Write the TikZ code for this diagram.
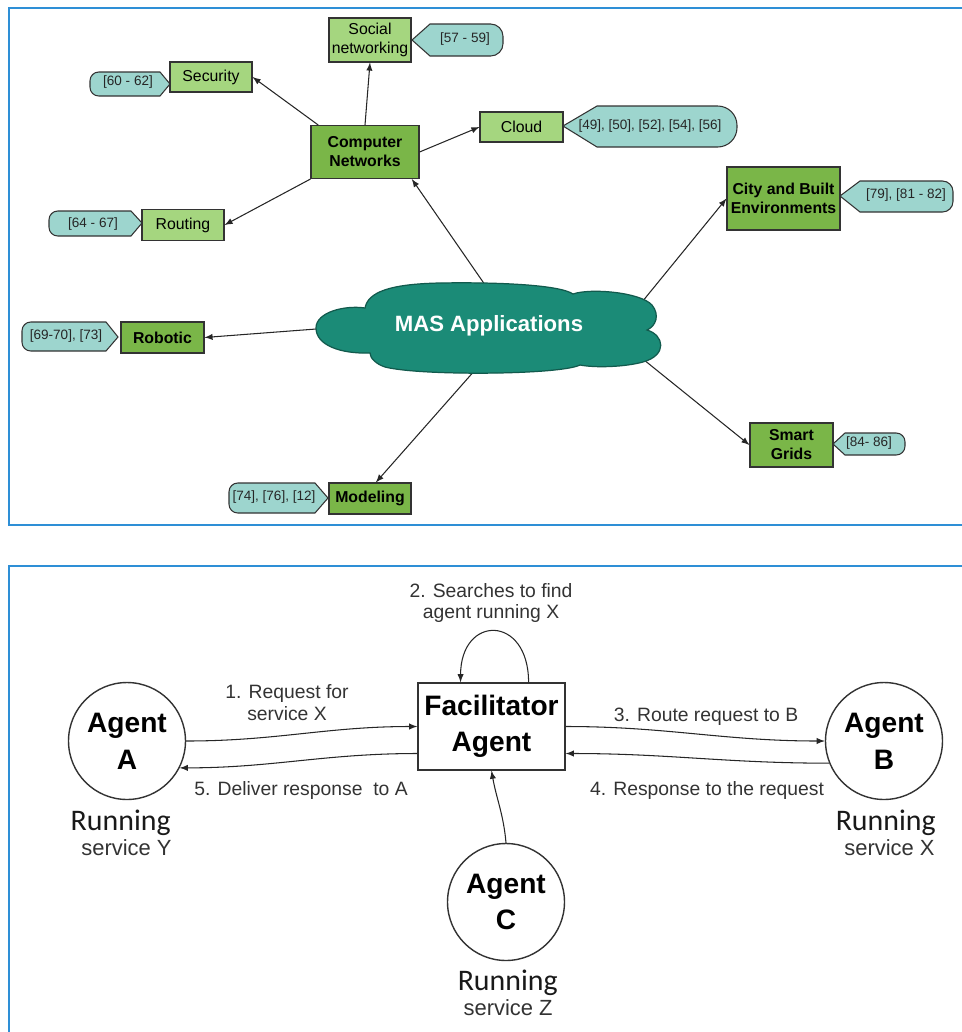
\documentclass[tikz,border=0pt]{standalone}
\usepackage{fontspec}
\setmainfont{Liberation Sans}
\newfontfamily\runfont{Carlito}
\usetikzlibrary{shapes.geometric,backgrounds}

\definecolor{lightgr}{HTML}{A5D67F}
\definecolor{darkgr}{HTML}{7AB648}
\definecolor{tagcol}{HTML}{9DD5CE}
\definecolor{cloudcol}{HTML}{1B8B77}
\definecolor{panelcol}{HTML}{2E8FD6}
\definecolor{edgecol}{HTML}{333333}

\tikzstyle{topic}=[draw=edgecol,fill=lightgr,line width=0.6pt,align=center,inner sep=1pt,font=\fontsize{9}{10.8}\selectfont]
\tikzstyle{area}=[topic,fill=darkgr,font=\fontsize{9}{10.8}\selectfont\bfseries]
\tikzstyle{reftag}=[draw=edgecol,fill=tagcol,line width=0.6pt]
\tikzstyle{reftext}=[inner sep=0pt,text=black!85,font=\fontsize{7.7}{9}\selectfont]
\tikzstyle{link}=[draw=black!85,line width=0.6pt,-latex]
\tikzstyle{panel}=[draw=panelcol,line width=1.2pt]
\tikzstyle{agent}=[circle,draw=black!80,line width=0.8pt,minimum size=2.34cm,inner sep=0pt,align=center,font=\fontsize{16}{21}\selectfont\bfseries]
\tikzstyle{msg}=[inner sep=0pt,align=center,text=black!80,font=\fontsize{11}{12.5}\selectfont]
\tikzstyle{runs}=[inner sep=0pt,text=black!90,font=\runfont\fontsize{17}{20}\selectfont]
\tikzstyle{svc}=[inner sep=0pt,text=black!80,font=\fontsize{12.5}{15}\selectfont]

\begin{document}
\begin{tikzpicture}[x=0.02cm,y=-0.02cm]

   \clip (0,0) rectangle (962,1032);

   % MAS applications map

   \draw[panel] (975,8) -- (9,8) -- (9,525) -- (975,525);

   \filldraw[fill=cloudcol,draw=cloudcol!65!black,line width=0.7pt] (365,308)
.. controls (368,292) and (390,284) .. (440,283)
.. controls (500,282) and (560,285) .. (573,294)
.. controls (590,288) and (640,292) .. (652,305)
.. controls (660,315) and (656,326) .. (647,330)
.. controls (664,335) and (668,355) .. (643,362)
.. controls (625,367) and (595,368) .. (580,365)
.. controls (560,375) and (420,376) .. (385,367)
.. controls (376,364) and (370,358) .. (370,353)
.. controls (340,354) and (316,345) .. (316,328)
.. controls (316,312) and (345,305) .. (365,308) -- cycle;

   \node[ellipse,minimum width=5.2cm,minimum height=1.4cm,inner sep=0pt,text=white,
font=\fontsize{12.6}{14}\selectfont\bfseries] (mas) at (489,326) {MAS Applications};

   \node[area,minimum width=2.16cm,minimum height=1.06cm] (cn) at (365,152) {Computer\\Networks};
   \node[topic,minimum width=1.64cm,minimum height=0.88cm] (soc) at (370,40) {Social\\networking};
   \node[topic,minimum width=1.64cm,minimum height=0.6cm] (sec) at (211,77) {Security};
   \node[topic,minimum width=1.64cm,minimum height=0.62cm] (rout) at (183,225) {Routing};
   \node[topic,minimum width=1.66cm,minimum height=0.6cm] (cld) at (521.5,127) {Cloud};
   \node[area,minimum width=2.26cm,minimum height=1.26cm] (city) at (783.5,198.5) {City and Built\\Environments};
   \node[area,minimum width=1.66cm,minimum height=0.62cm] (rob) at (162.5,337.5) {Robotic};
   \node[area,minimum width=1.64cm,minimum height=0.62cm] (mod) at (370,498.5) {Modeling};
   \node[area,minimum width=1.66cm,minimum height=0.88cm] (smart) at (791.5,445) {Smart\\Grids};

   % reference tags

   \draw[reftag] (412,40) -- (430,24) [rounded corners=7pt] -- (503,24) -- (503,56)
[sharp corners] -- (430,56) -- cycle;
   \draw[reftag] (170,84) -- (160,72) [rounded corners=5pt] -- (90,72) -- (90,96)
[sharp corners] -- (160,96) -- cycle;
   \draw[reftag] (142,223) -- (131,211) [rounded corners=5pt] -- (49,211) -- (49,236)
[sharp corners] -- (131,236) -- cycle;
   \draw[reftag] (563,126) -- (597,106) [rounded corners=11pt] -- (737,106) -- (737,147)
[sharp corners] -- (597,147) -- cycle;
   \draw[reftag] (840,196) -- (860,181) [rounded corners=6pt] -- (953,181) -- (953,212)
[sharp corners] -- (860,212) -- cycle;
   \draw[reftag] (118,337) -- (106,322) [rounded corners=5pt] -- (22,322) -- (22,351)
[sharp corners] -- (106,351) -- cycle;
   \draw[reftag] (328,498) -- (315,483) [rounded corners=5pt] -- (229,483) -- (229,513)
[sharp corners] -- (315,513) -- cycle;
   \draw[reftag] (833,444) -- (845,433) [rounded corners=5pt] -- (905,433) -- (905,455)
[sharp corners] -- (845,455) -- cycle;

   \node[reftext] (rsoc) at (465,39) {[57 - 59]};
   \node[reftext] (rsec) at (128,82) {[60 - 62]};
   \node[reftext] (rrout) at (93,224) {[64 - 67]};
   \node[reftext] (rcld) at (650,126) {[49], [50], [52], [54], [56]};
   \node[reftext] (rcity) at (906,195) {[79], [81 - 82]};
   \node[reftext] (rrob) at (66,336) {[69-70], [73]};
   \node[reftext] (rmod) at (274,497) {[74], [76], [12]};
   \node[reftext] (rsmart) at (869,443) {[84- 86]};

   \draw[link] (cn.150) -- (sec.east);
   \draw[link] (cn.north) -- (soc.south);
   \draw[link] (cn.east) -- (cld.west);
   \draw[link] (cn.south west) -- (rout.east);

   \begin{pgfonlayer}{background}
   \draw[link] (mas.north) -- (cn.-30);
   \draw[link] (mas.east) -- (city.west);
   \draw[link] (mas.west) -- (rob.east);
   \draw[link] (mas.-100) -- (mod.70);
   \draw[link] (mas.-5) -- (smart.west);
   \end{pgfonlayer}

   % Facilitator and agents

   \draw[panel] (975,566) -- (9,566) -- (9,1040);

   \node[draw=black!80,line width=0.8pt,minimum width=2.94cm,minimum height=1.74cm,inner sep=0pt,
align=center,font=\fontsize{16}{20.4}\selectfont\bfseries] (fac) at (491.5,726.5) {Facilitator\\Agent};
   \node[agent] (agA) at (127,741) {Agent\\A};
   \node[agent] (agB) at (884,741) {Agent\\B};
   \node[agent] (agC) at (506,902) {Agent\\C};

   \draw[link] (agA.east) to[out=0,in=180] (fac.west);
   \draw[link] (fac.200) to[out=180,in=0] (agA.-27);
   \draw[link] (fac.east) to[out=0,in=180] (agB.west);
   \draw[link] (agB.202) to[out=180,in=0] (fac.-20);
   \draw[link] (fac.50) to[out=90,in=90,distance=1.36cm] (fac.125);
   \draw[link] (agC.north) to[out=95,in=-80] (fac.south);

   \node[msg] (m1) at (287,703) {1. Request for\\service X};
   \node[msg] (m2) at (491,603) {2. Searches to find\\agent running X};
   \node[msg] (m3) at (706,717) {3. Route request to B};
   \node[msg] (m4) at (707,790) {4. Response to the request};
   \node[msg] (m5) at (301,790) {5. Deliver response~ to A};

   \node[runs,anchor=base east] (runA) at (171,830) {Running};
   \node[svc,anchor=base east] (svcA) at (172,855) {service Y};
   \node[runs,anchor=base east] (runB) at (936,830) {Running};
   \node[svc,anchor=base east] (svcB) at (935,855) {service X};
   \node[runs,anchor=base east] (runC) at (558,990) {Running};
   \node[svc,anchor=base east] (svcC) at (553,1015) {service Z};

\end{tikzpicture}
\end{document}
